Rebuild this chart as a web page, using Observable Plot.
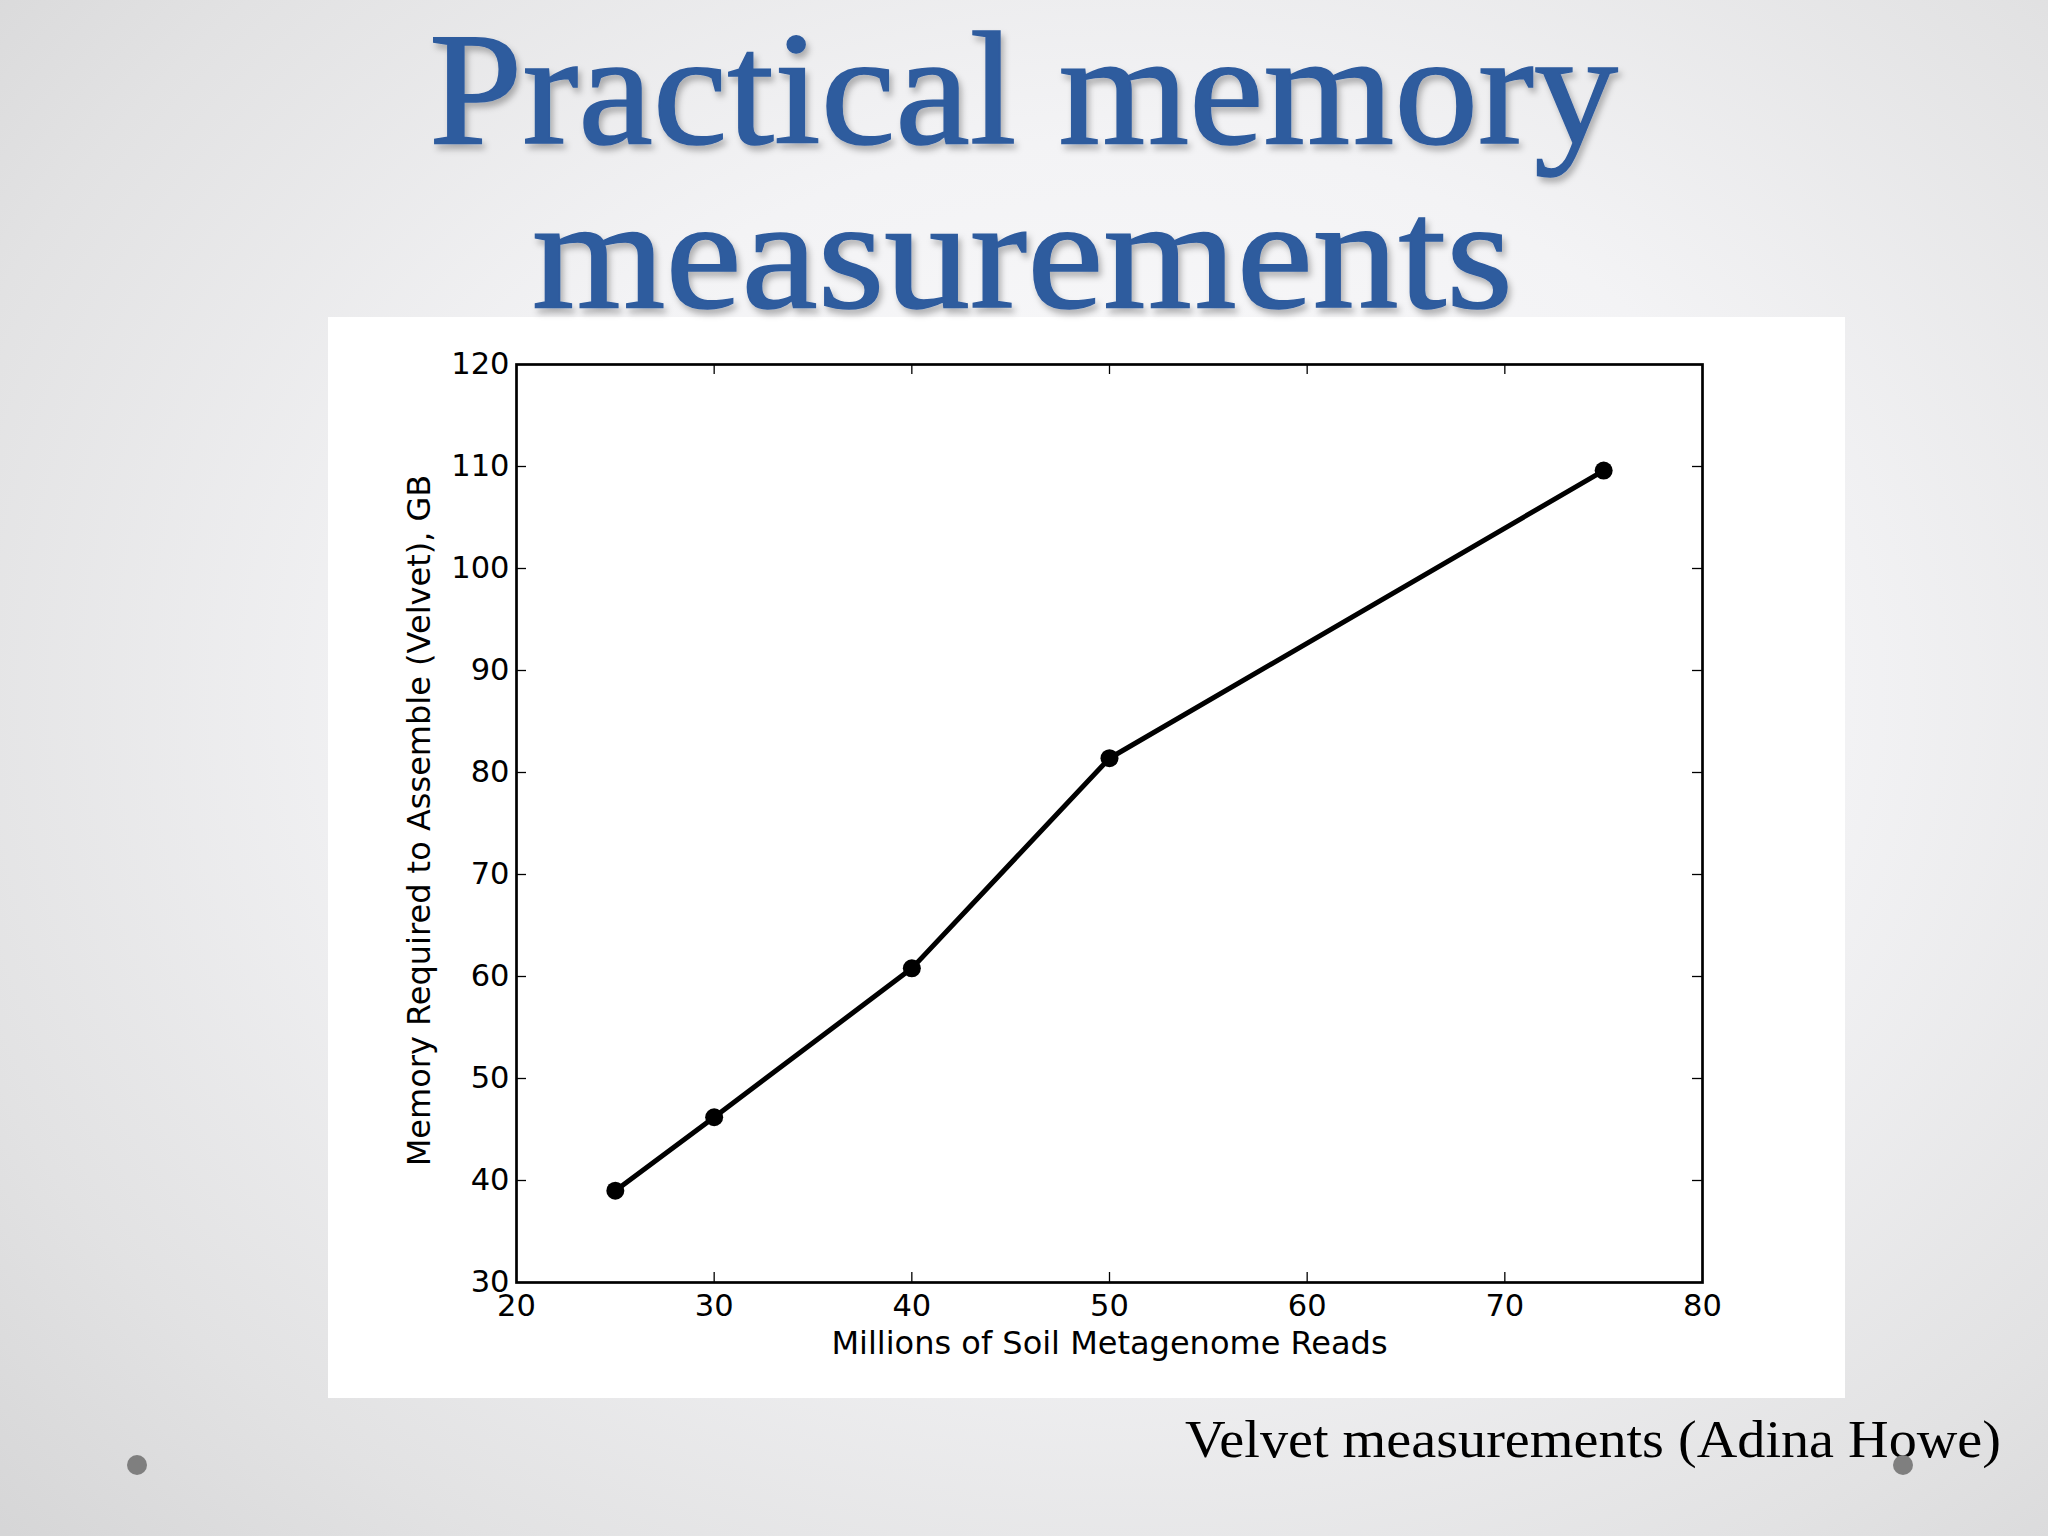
<!DOCTYPE html>
<html>
<head>
<meta charset="utf-8">
<script src="https://cdn.jsdelivr.net/npm/d3@7"></script>
<script src="https://cdn.jsdelivr.net/npm/@observablehq/plot@0.6"></script>
<style>
  html, body { margin: 0; padding: 0; }
  #page {
    position: relative; width: 2048px; height: 1536px; overflow: hidden;
    background: radial-gradient(ellipse 75% 80% at 55% 45%, #fcfcfd 0%, #f3f3f5 45%, #e2e2e3 80%, #d6d6d7 100%);
  }
  #chart { position: absolute; left: 328px; top: 317px; width: 1517px; height: 1081px; background: #fff; }
  #overlay { position: absolute; left: 0; top: 0; }
</style>
</head>
<body>
<div id="page">
  <div id="chart"></div>
  <svg id="overlay" width="2048" height="1536">
    <defs>
      <filter id="shadow" x="-5%" y="-5%" width="110%" height="120%">
        <feDropShadow dx="3" dy="5" stdDeviation="3" flood-color="#000" flood-opacity="0.28"/>
      </filter>
    </defs>
    <g font-family="'Liberation Serif', 'Times New Roman', serif" fill="#2E5B9E" stroke="#2E5B9E" stroke-width="1.6" filter="url(#shadow)">
      <text id="t1" x="429" y="143" font-size="161" textLength="1189" lengthAdjust="spacingAndGlyphs">Practical memory</text>
      <text id="t2" x="532" y="307" font-size="158" textLength="981" lengthAdjust="spacingAndGlyphs">measurements</text>
    </g>
    <text x="1185" y="1457" font-family="'Liberation Serif', 'Times New Roman', serif" font-size="53" fill="#000" textLength="816" lengthAdjust="spacingAndGlyphs">Velvet measurements (Adina Howe)</text>
    <circle cx="137" cy="1465" r="10" fill="#7f7f7f"/>
    <circle cx="1903" cy="1465" r="10" fill="#7f7f7f"/>
  </svg>
</div>
<script>
// Data
const reads = [25, 30, 40, 50, 75];              // Millions of soil metagenome reads
const memoryGB = [39.0, 46.2, 60.8, 81.4, 109.6]; // Memory required (GB)
const xTicks = [20, 30, 40, 50, 60, 70, 80];
const yTicks = [30, 40, 50, 60, 70, 80, 90, 100, 110, 120];
const xLabel = "Millions of Soil Metagenome Reads";
const yLabel = "Memory Required to Assemble (Velvet), GB";

const data = reads.map((x, i) => ({x, y: memoryGB[i]}));

const W = 1517, H = 1081;
const mL = 188, mR = 143, mT = 47, mB = 116;
const pW = W - mL - mR, pH = H - mT - mB;
const tick = 10;
const innerX = xTicks.slice(1, -1), innerY = yTicks.slice(1, -1);

const chart = Plot.plot({
  width: W, height: H,
  marginLeft: mL, marginRight: mR, marginTop: mT, marginBottom: mB,
  style: {fontFamily: "'DejaVu Sans', sans-serif", fontSize: "30px", background: "#fff", color: "#000"},
  x: {domain: [20, 80]},
  y: {domain: [30, 120]},
  marks: [
    Plot.axisX({ticks: xTicks, tickSize: 0, tickPadding: 12, label: null, fontSize: 30.5, tickFormat: d => String(d)}),
    Plot.axisY({ticks: yTicks, tickSize: 0, tickPadding: 7, label: null, fontSize: 30.5, tickFormat: d => String(d)}),
    Plot.tickX(innerX, {x: d => d, insetTop: pH - tick, stroke: "#000", strokeWidth: 1.3}),
    Plot.tickX(innerX, {x: d => d, insetBottom: pH - tick, stroke: "#000", strokeWidth: 1.3}),
    Plot.tickY(innerY, {y: d => d, insetRight: pW - tick, stroke: "#000", strokeWidth: 1.3}),
    Plot.tickY(innerY, {y: d => d, insetLeft: pW - tick, stroke: "#000", strokeWidth: 1.3}),
    Plot.line(data, {x: "x", y: "y", stroke: "#000", strokeWidth: 5}),
    Plot.dot(data, {x: "x", y: "y", r: 9, fill: "#000", stroke: "none"}),
    Plot.frame({stroke: "#000", strokeWidth: 2.7}),
    Plot.text([xLabel], {text: d => d, frameAnchor: "bottom", dy: 49, lineAnchor: "top", fontSize: 32, fill: "#000"}),
    Plot.text([yLabel], {text: d => d, frameAnchor: "left", textAnchor: "middle", lineAnchor: "middle", rotate: -90, dx: -97, dy: -3, fontSize: 32, fill: "#000"})
  ]
});
document.getElementById("chart").appendChild(chart);
</script>
</body>
</html>
